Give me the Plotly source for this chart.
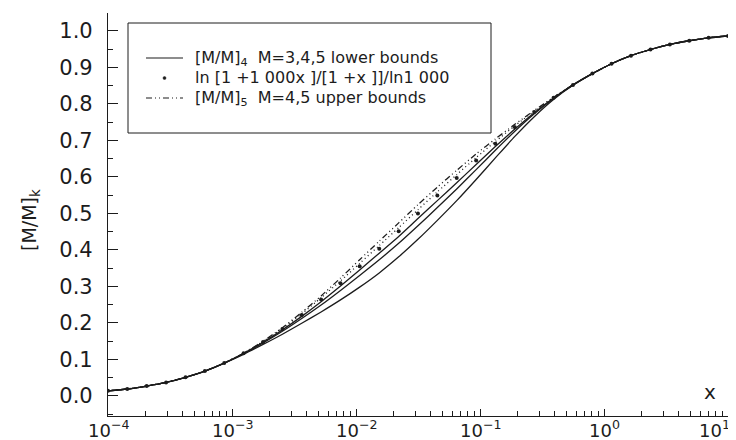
import plotly.graph_objects as go

# ---------------- data ----------------
x_vals = [1.00e-4, 1.43e-4, 2.05e-4, 2.94e-4, 4.22e-4, 6.04e-4, 8.66e-4,
          1.24e-3, 1.78e-3, 2.55e-3, 3.65e-3, 5.23e-3, 7.50e-3,
          1.07e-2, 1.54e-2, 2.21e-2, 3.16e-2, 4.53e-2, 6.49e-2, 9.31e-2,
          0.133, 0.191, 0.274, 0.392, 0.562, 0.806, 1.15, 1.65, 2.37, 3.40,
          4.87, 6.98, 10.0]

exact_vals = [0.014, 0.019, 0.027, 0.037, 0.051, 0.068, 0.090,
              0.117, 0.148, 0.183, 0.222, 0.264, 0.309,
              0.355, 0.403, 0.451, 0.500, 0.549, 0.597, 0.645,
              0.691, 0.736, 0.778, 0.817, 0.852, 0.883, 0.910, 0.932, 0.949, 0.963,
              0.973, 0.981, 0.986]

lower_m3 = [0.014, 0.019, 0.027, 0.037, 0.051, 0.068, 0.090,
            0.114, 0.141, 0.169, 0.199, 0.230, 0.263,
            0.298, 0.337, 0.381, 0.429, 0.481, 0.535, 0.593,
            0.652, 0.711, 0.765, 0.812, 0.851, 0.883, 0.910, 0.932, 0.949, 0.963,
            0.973, 0.981, 0.986]

lower_m4 = [0.014, 0.019, 0.027, 0.037, 0.051, 0.068, 0.090,
            0.116, 0.145, 0.177, 0.212, 0.249, 0.289,
            0.330, 0.373, 0.418, 0.466, 0.516, 0.567, 0.620,
            0.673, 0.725, 0.773, 0.815, 0.852, 0.883, 0.910, 0.932, 0.949, 0.963,
            0.973, 0.981, 0.986]

lower_m5 = [0.014, 0.019, 0.027, 0.037, 0.051, 0.068, 0.090,
            0.117, 0.147, 0.181, 0.218, 0.258, 0.301,
            0.345, 0.391, 0.437, 0.486, 0.535, 0.584, 0.634,
            0.683, 0.731, 0.776, 0.816, 0.852, 0.883, 0.910, 0.932, 0.949, 0.963,
            0.973, 0.981, 0.986]

upper_m4 = [0.014, 0.019, 0.027, 0.037, 0.051, 0.068, 0.090,
            0.117, 0.149, 0.185, 0.225, 0.269, 0.315,
            0.363, 0.412, 0.461, 0.510, 0.559, 0.606, 0.653,
            0.697, 0.740, 0.780, 0.818, 0.852, 0.883, 0.910, 0.932, 0.949, 0.963,
            0.973, 0.981, 0.986]

upper_m5 = [0.014, 0.019, 0.027, 0.037, 0.051, 0.068, 0.090,
            0.117, 0.150, 0.187, 0.229, 0.274, 0.323,
            0.373, 0.424, 0.474, 0.524, 0.572, 0.618, 0.663,
            0.704, 0.744, 0.782, 0.818, 0.852, 0.883, 0.910, 0.932, 0.949, 0.963,
            0.973, 0.981, 0.986]

x_tick_vals = [1e-4, 1e-3, 1e-2, 1e-1, 1e0, 1e1]
x_tick_exps = [-4, -3, -2, -1, 0, 1]
x_tick_text = ["10<sup>−4</sup>", "10<sup>−3</sup>", "10<sup>−2</sup>",
               "10<sup>−1</sup>", "10<sup>0</sup>", "10<sup>1</sup>"]
y_tick_vals = [0.0, 0.1, 0.2, 0.3, 0.4, 0.5, 0.6, 0.7, 0.8, 0.9, 1.0]
y_tick_text = ["0.0", "0.1", "0.2", "0.3", "0.4", "0.5", "0.6", "0.7", "0.8", "0.9", "1.0"]

legend_labels = ["[M/M]<sub>4</sub>  M=3,4,5 lower bounds",
                 "ln [1 +1 000x ]/[1 +x ]]/ln1 000",
                 "[M/M]<sub>5</sub>  M=4,5 upper bounds"]

# ---------------- styling ----------------
INK = "#1c1c1c"
FONT = "DejaVu Sans"
W, H = 736, 440
L, R, T, B = 100, 16, 5, 32          # plot area margins in px
PW, PH = W - L - R, H - T - B

def px(xp):
    return (xp - L) / PW

def py(yp):
    return (H - B - yp) / PH

DASHDOT = "6px,3px,1px,3px,1px,3px"
DOTTED = "1px,3px"

fig = go.Figure()

for ys in (lower_m3, lower_m4, lower_m5):
    fig.add_trace(go.Scatter(x=x_vals, y=ys, mode="lines",
                             line=dict(color=INK, width=1.3, shape="spline", smoothing=0.6),
                             showlegend=False, hoverinfo="skip"))

fig.add_trace(go.Scatter(x=x_vals, y=upper_m4, mode="lines",
                         line=dict(color=INK, width=1.3, dash=DOTTED, shape="spline", smoothing=0.6),
                         showlegend=False, hoverinfo="skip"))
fig.add_trace(go.Scatter(x=x_vals, y=upper_m5, mode="lines",
                         line=dict(color=INK, width=1.3, dash=DASHDOT, shape="spline", smoothing=0.6),
                         showlegend=False, hoverinfo="skip"))

fig.add_trace(go.Scatter(x=x_vals, y=exact_vals, mode="markers",
                         marker=dict(color=INK, size=4),
                         showlegend=False, hoverinfo="skip"))

# ---------------- manual legend ----------------
box_l, box_r, box_t, box_b = 120, 483, 15, 125
rows = [50, 70, 90]
sym_l, sym_r = 138, 175
shapes = [dict(type="rect", xref="paper", yref="paper",
               x0=px(box_l), x1=px(box_r), y0=py(box_b), y1=py(box_t),
               line=dict(color=INK, width=1), fillcolor="rgba(0,0,0,0)")]
shapes.append(dict(type="line", xref="paper", yref="paper",
                   x0=px(sym_l), x1=px(sym_r), y0=py(rows[0]), y1=py(rows[0]),
                   line=dict(color=INK, width=1.2)))
shapes.append(dict(type="circle", xref="paper", yref="paper",
                   x0=px(155), x1=px(158), y0=py(rows[1] + 1.5), y1=py(rows[1] - 1.5),
                   line=dict(color=INK, width=0.5), fillcolor=INK))
shapes.append(dict(type="line", xref="paper", yref="paper",
                   x0=px(sym_l), x1=px(sym_r), y0=py(rows[2]), y1=py(rows[2]),
                   line=dict(color=INK, width=1.2, dash=DASHDOT)))

annotations = []
for r, lab in zip(rows, legend_labels):
    annotations.append(dict(text=lab, xref="paper", yref="paper",
                            x=px(185), y=py(r), xanchor="left", yanchor="middle",
                            showarrow=False, font=dict(family=FONT, size=16, color=INK)))

# x tick labels placed just under the axis line
for i, (ex, tt) in enumerate(zip(x_tick_exps, x_tick_text)):
    annotations.append(dict(text=tt, xref="x", yref="paper",
                            x=ex, y=py(421),
                            xanchor="center", yanchor="middle",
                            xshift=-14 if i == len(x_tick_exps) - 1 else 0,
                            showarrow=False, font=dict(family=FONT, size=18, color=INK)))

annotations.append(dict(text="[M/M]<sub>k</sub>", xref="paper", yref="paper",
                        x=px(22), y=py(212), xanchor="center", yanchor="middle",
                        textangle=-90, showarrow=False,
                        font=dict(family=FONT, size=19, color=INK)))
annotations.append(dict(text="x", xref="paper", yref="paper",
                        x=px(702), y=py(384), xanchor="center", yanchor="middle",
                        showarrow=False, font=dict(family=FONT, size=20, color=INK)))

minor_x = [m * 10.0 ** e for e in range(-4, 1) for m in range(2, 10)]

fig.update_layout(
    width=W, height=H,
    margin=dict(l=L, r=R, t=T, b=B, pad=0),
    paper_bgcolor="white", plot_bgcolor="white",
    font=dict(family=FONT, size=20, color=INK),
    shapes=shapes, annotations=annotations,
    xaxis=dict(type="log", range=[-4, 1], showgrid=False, zeroline=False,
               showline=True, linecolor=INK, linewidth=1.2,
               tickmode="array", tickvals=x_tick_vals, showticklabels=False,
               ticks="inside", ticklen=7, tickwidth=1, tickcolor=INK,
               minor=dict(tickmode="array", tickvals=minor_x, ticks="inside",
                          ticklen=5, tickwidth=1, tickcolor=INK, showgrid=False)),
    yaxis=dict(range=[-0.055, 1.049], showgrid=False, zeroline=False,
               showline=True, linecolor=INK, linewidth=1.2,
               tickmode="array", tickvals=y_tick_vals, ticktext=y_tick_text,
               ticks="inside", ticklen=10, tickwidth=1, tickcolor=INK,
               ticklabelstandoff=10,
               tickfont=dict(family=FONT, size=21, color=INK),
               minor=dict(dtick=0.05, tick0=0, ticks="inside", ticklen=5,
                          tickwidth=1, tickcolor=INK, showgrid=False)),
)

fig.write_html("out.html")
